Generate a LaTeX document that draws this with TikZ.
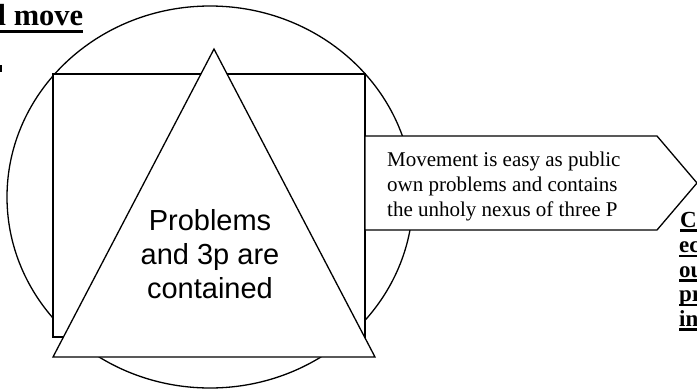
\documentclass[tikz,border=0pt]{standalone}
\usepackage{fontspec}
\setmainfont{Liberation Serif}
\newfontfamily\arialf{Liberation Sans}
\begin{document}
\begin{tikzpicture}[x=1pt,y=-1pt,
  shapeline/.style={draw=black,line width=1.3pt,fill=white,line join=miter},
  arialtext/.style={anchor=base,inner sep=0pt,font=\arialf\fontsize{29}{34}\selectfont},
  boxtext/.style={anchor=base west,inner sep=0pt,font=\fontsize{21}{25}\selectfont},
  sidetext/.style={anchor=base west,inner sep=0pt,font=\bfseries\fontsize{23}{25}\selectfont},
  uline/.style={line width=2.4pt}]
\useasboundingbox (0,0) rectangle (697,389);
% shapes
\draw[shapeline] (210,197) ellipse [x radius=203, y radius=191];
\draw[shapeline] (53,74) rectangle (365,337);
\draw[shapeline] (214,49) -- (375,357) -- (53,357) -- cycle;
\draw[shapeline] (365,136) -- (657,136) -- (697,183) -- (657,230) -- (365,230) -- cycle;
% title (cut off at the left edge)
\node[anchor=base west,inner sep=0pt,font=\bfseries\fontsize{30.5}{35}\selectfont] (title) at (-2.5,25) {l move};
\draw[line width=3.2pt] ([yshift=-6.5pt]title.base west) -- ([yshift=-6.5pt]title.base east);
\fill (0,65) rectangle (2,72);
% triangle text
\node[arialtext] (p1) at (210,230) {Problems};
\node[arialtext] (p2) at (210,264) {and 3p are};
\node[arialtext] (p3) at (210,298) {contained};
% arrow text
\node[boxtext] (m1) at (387,166) {Movement is easy as public};
\node[boxtext] (m2) at (387,191) {own problems and contains};
\node[boxtext] (m3) at (387,216) {the unholy nexus of three P};
% right text (cut off at the right edge)
\node[sidetext] (r1) at (680,227) {C};
\node[sidetext] (r2) at (679,252.5) {ec};
\node[sidetext] (r3) at (679,277) {ou};
\node[sidetext] (r4) at (679,301.5) {pr};
\node[sidetext] (r5) at (679,326) {in};
\foreach \n in {r1,r2,r3,r4,r5}
  \draw[uline] ([yshift=-3.5pt]\n.base west) -- ([yshift=-3.5pt]\n.base east);
\end{tikzpicture}
\end{document}
